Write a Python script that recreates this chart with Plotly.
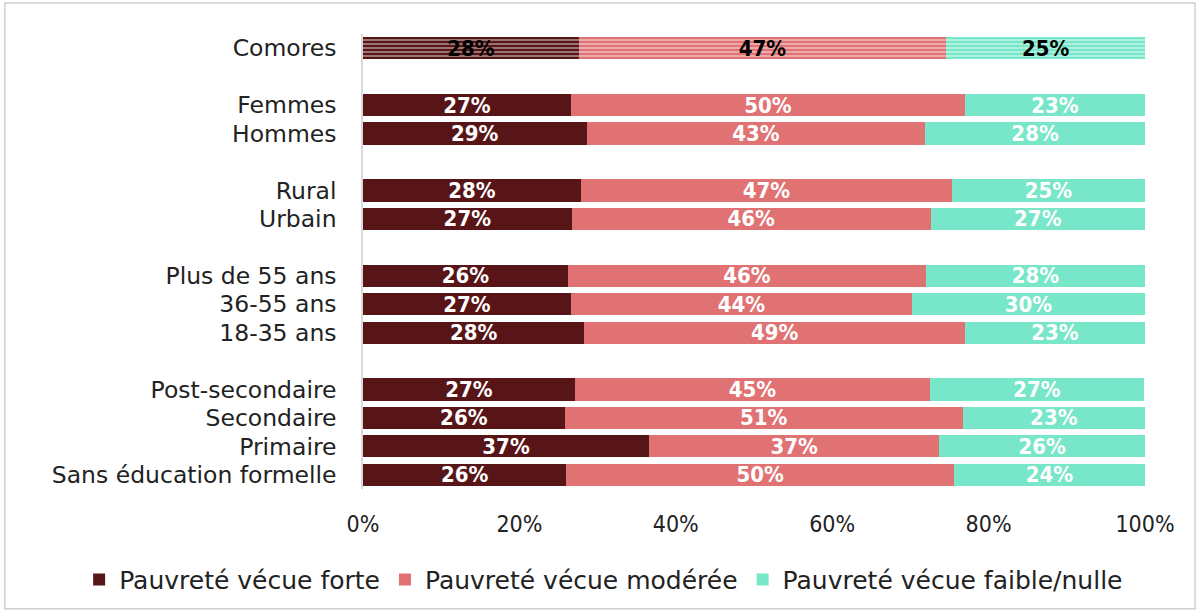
import plotly.graph_objects as go

categories = ["Comores", "", "Femmes", "Hommes", " ", "Rural", "Urbain", "  ",
              "Plus de 55 ans", "36-55 ans", "18-35 ans", "   ",
              "Post-secondaire", "Secondaire", "Primaire", "Sans éducation formelle"]
forte = [27.6, None, 26.6, 28.6, None, 27.9, 26.7, None, 26.2, 26.6, 28.3, None, 27.1, 25.8, 36.6, 26.0]
moderee = [47.0, None, 50.4, 43.3, None, 47.4, 45.9, None, 45.8, 43.6, 48.7, None, 45.4, 50.9, 37.1, 49.6]
faible = [25.4, None, 23.0, 28.1, None, 24.7, 27.4, None, 28.0, 29.8, 23.0, None, 27.4, 23.3, 26.3, 24.4]
series_names = ["Pauvreté vécue forte", "Pauvreté vécue modérée", "Pauvreté vécue faible/nulle"]
colors = ["#581518", "#E07274", "#78E6C8"]
tick_vals = [0, 20, 40, 60, 80, 100]
tick_text = ["0%", "20%", "40%", "60%", "80%", "100%"]

FONT = "DejaVu Sans"
COND = "DejaVu Sans Condensed"
fig = go.Figure()
for i, (name, vals, col) in enumerate(zip(series_names, [forte, moderee, faible], colors)):
    # total row (hatched, black labels)
    fig.add_trace(go.Bar(
        y=categories[:1], x=vals[:1], name=name, orientation="h", legendgroup=name,
        showlegend=False,
        marker=dict(color=col, line=dict(width=0),
                    pattern=dict(shape="-", fgcolor="white", size=4, solidity=0.4)),
        width=0.78,
        texttemplate="%{x:.0f}%", textposition="inside", insidetextanchor="middle",
        textfont=dict(family=COND, size=22, color="black", weight="bold"),
        constraintext="none", hoverinfo="skip",
    ))
    fig.add_trace(go.Bar(
        y=categories[1:], x=vals[1:], name=name, orientation="h", legendgroup=name,
        marker=dict(color=col, line=dict(width=0)),
        width=0.78,
        texttemplate="%{x:.0f}%", textposition="inside", insidetextanchor="middle",
        textfont=dict(family=COND, size=22, color="white", weight="bold"),
        constraintext="none", hoverinfo="skip",
    ))

fig.update_layout(
    barmode="stack",
    width=1200, height=614,
    margin=dict(l=363, r=55, t=34, b=124),
    paper_bgcolor="white", plot_bgcolor="white",
    font=dict(family=FONT, size=24, color="#222222"),
    xaxis=dict(range=[0, 100], tickvals=tick_vals, ticktext=tick_text, showgrid=False,
               zeroline=False, showline=False, ticks="", ticklabelstandoff=19,
               tickfont=dict(family=COND, size=23, color="#222222")),
    yaxis=dict(categoryorder="array", categoryarray=categories, autorange="reversed",
               tickmode="array", tickvals=categories, ticktext=categories,
               showline=True, linecolor="#d9d9d9", linewidth=1.5, ticks="", showgrid=False,
               tickfont=dict(size=23.5, color="#222222"), ticklabelstandoff=20),
    legend=dict(orientation="h", x=-0.363, xanchor="left", y=-0.197, yanchor="middle",
                font=dict(size=25, color="#222222"), traceorder="normal",
                itemwidth=30, tracegroupgap=0),
    showlegend=True,
)
fig.add_shape(type="rect", xref="paper", yref="paper", x0=-0.458, x1=1.064, y0=-0.263, y1=1.068,
              line=dict(color="#d0d0d0", width=1.5), fillcolor="rgba(0,0,0,0)", layer="below")
fig.write_html("out.html", post_script="document.body.style.margin='0px';",
               config={"displayModeBar": False})
